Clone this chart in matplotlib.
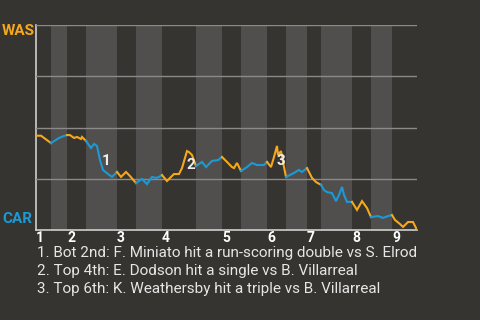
import matplotlib.pyplot as plt

plt.rcParams["font.family"] = ["Roboto", "DejaVu Sans"]

BG = "#363430"
BAND = "#504f4d"
WAS_COLOR = "#f5a81c"
CAR_COLOR = "#1b9ad6"

# game progress (plays) and Washington win probability
plays = [0, 1, 3, 4.6, 5.6, 6.2, 6.8, 7.6, 8.2, 9, 9.2, 10, 11, 11.6, 12.2, 12.8,
         13.4, 14.4, 15.2, 16.2, 17, 18, 18.8, 20, 21.2, 22.2, 23.2, 24, 24.6, 25.2,
         26.2, 27, 27.6, 28.6, 29.2, 30.2, 30.6, 31.2, 32, 33.2, 34, 35.2, 36.4, 37.2,
         38.2, 39.2, 39.6, 40.2, 41, 42.2, 43.2, 44.2, 45.6, 46.2, 47, 47.6, 48.2,
         48.4, 49, 49.6, 50, 51.6, 52.6, 53.2, 54.2, 55.2, 56, 57, 57.6, 58.2, 59.2,
         60, 60.6, 61.2, 61.6, 62.2, 63.2, 64.2, 65.2, 66.2, 67, 68.4, 69.4, 70.4,
         71.2, 71.8, 72.8, 73.4, 74.4, 75.4, 76.2]
was_wp = [0.46, 0.46, 0.424, 0.449, 0.459, 0.463, 0.463, 0.449, 0.454, 0.444, 0.454,
          0.434, 0.40, 0.42, 0.41, 0.341, 0.293, 0.273, 0.259, 0.283, 0.259, 0.283,
          0.263, 0.229, 0.249, 0.224, 0.259, 0.254, 0.259, 0.268, 0.239, 0.259, 0.273,
          0.273, 0.302, 0.385, 0.38, 0.366, 0.312, 0.332, 0.307, 0.337, 0.341, 0.356,
          0.332, 0.307, 0.302, 0.327, 0.288, 0.307, 0.327, 0.317, 0.317, 0.332, 0.307,
          0.356, 0.41, 0.366, 0.385, 0.307, 0.259, 0.278, 0.293, 0.283, 0.302, 0.254,
          0.234, 0.22, 0.195, 0.185, 0.18, 0.141, 0.171, 0.21, 0.171, 0.137, 0.137,
          0.098, 0.141, 0.107, 0.063, 0.068, 0.059, 0.068, 0.073, 0.049, 0.029, 0.015,
          0.039, 0.039, 0.0]

# first play of each half-inning (top 1st, bottom 1st, ...)
half_starts = [0, 3, 6.2, 10, 16.2, 20, 25.2, 32, 37.2, 41, 46.2, 50, 54.2, 57,
               63.2, 67, 71.2]
game_end = 76.2
innings = [str(i) for i in range(1, 10)]

# big plays: index into plays, label offset in points
events = [(15, (1, -1)), (35, (0, -10)), (56, (0, -11))]
notes = [
    "1. Bot 2nd: F. Miniato hit a run-scoring double vs S. Elrod",
    "2. Top 4th: E. Dodson hit a single vs B. Villarreal",
    "3. Top 6th: K. Weathersby hit a triple vs B. Villarreal",
]

fig = plt.figure(figsize=(4.8, 3.2), dpi=100, facecolor=BG)
ax = fig.add_axes([36 / 480, 90 / 320, 381 / 480, 205 / 320])
ax.set_facecolor(BG)

bounds = half_starts + [game_end]
for i in range(len(half_starts)):
    lo, hi = bounds[i], bounds[i + 1]
    if i % 2 == 1:
        ax.axvspan(lo, hi, color=BAND, lw=0, zorder=0)
    xs = [x for x in plays if lo <= x <= hi]
    ys = [y for x, y in zip(plays, was_wp) if lo <= x <= hi]
    ax.plot(xs, ys, color=WAS_COLOR if i % 2 == 0 else CAR_COLOR, lw=1.5,
            solid_joinstyle="miter", zorder=3)

for n, (idx, off) in enumerate(events, start=1):
    ax.annotate(str(n), (plays[idx], was_wp[idx]), xytext=off, textcoords="offset points",
                color="#eeeeee", fontsize=11, fontweight="bold", ha="left", va="center",
                zorder=4)

ax.set_xlim(0, game_end)
ax.set_ylim(0, 1)
ax.set_yticks([0.25, 0.5, 0.75, 1.0])
ax.set_yticklabels([])
ax.yaxis.grid(True, color="#8c8a88", lw=1)
ax.set_axisbelow(False)
ax.set_xticks(half_starts[0::2])
ax.set_xticklabels(innings, ha="left", color="white", fontsize=10, fontweight="bold")
ax.tick_params(length=0, pad=1)
for side in ("top", "right"):
    ax.spines[side].set_visible(False)
for side in ("left", "bottom"):
    ax.spines[side].set_color("#cfcfcf")
    ax.spines[side].set_linewidth(1.2)

fig.text(2 / 480, 1 - 31 / 320, "WAS", color=WAS_COLOR, fontsize=11,
         fontweight="bold", ha="left", va="center")
fig.text(2 / 480, 1 - 219 / 320, "CAR", color=CAR_COLOR, fontsize=11,
         fontweight="bold", ha="left", va="center")

for k, line in enumerate(notes):
    fig.text(37 / 480, 1 - (253 + 18 * k) / 320, line, color="#e6e6e6",
             fontsize=11, ha="left", va="center")

fig.savefig("out.png", dpi=100, facecolor=BG)
